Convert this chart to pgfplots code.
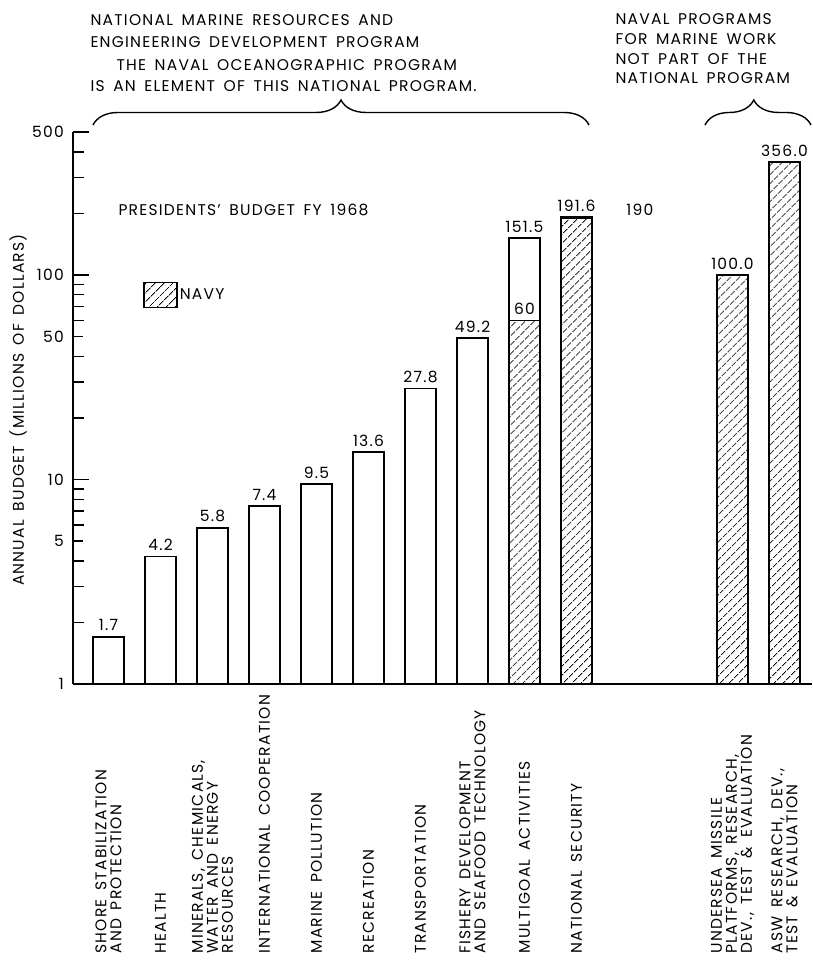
\documentclass[border=0pt]{standalone}
\usepackage{fontspec}
\setmainfont{Poppins}[LetterSpace=8, WordSpace=1.6]
\usepackage{pgfplots}
\pgfplotsset{compat=1.18}
\usetikzlibrary{patterns.meta,decorations.pathreplacing}
\tikzset{navy/.style={pattern={Lines[angle=45,distance=6.5pt,line width=0.9pt]}}}
\newcommand\lab{\fontsize{15.5}{15}\selectfont}
\begin{document}
\begin{tikzpicture}
\useasboundingbox (0,0) rectangle (812pt,960pt);
\begin{axis}[
  at={(73pt,276pt)}, anchor=south west, scale only axis,
  width=739pt, height=552pt,
  xmin=-0.683, xmax=13.53,
  ymode=log, ymin=1, ymax=500,
  axis lines*=left,
  axis line style={line width=1.6pt},
  xtick=\empty,
  ytick={1,10,100,500},
  yticklabels={1,10,100,500},
  extra y ticks={5,50},
  extra y tick labels={5,50},
  extra y tick style={major tick length=10pt},
  minor ytick={2,3,4,6,7,8,9,20,30,40,60,70,80,90,200,300,400},
  tick align=inside,
  major tick length=16pt,
  minor tick length=11pt,
  every tick/.style={line width=1.4pt, black},
  tick label style={font=\lab},
  yticklabel style={inner sep=0pt, xshift=-9pt},
  /pgf/number format/assume math mode=true,
  clip=false,
  legend style={at={(0.0947,0.705)}, anchor=west, draw=none, fill=none, inner sep=0pt, font=\lab,
    /tikz/every even column/.append style={column sep=9pt}},
  legend image code/.code={\draw[navy, line width=1.6pt] (0pt,-12.5pt) rectangle (33pt,12.5pt);},
  nodes near coords style={font=\lab, anchor=south, inner sep=0pt, yshift=5pt},
]
% total budgets (white bars)
\addplot[ybar, bar width=31pt, bar shift=0pt, fill=white, draw=black, line width=1.6pt,
  nodes near coords, point meta=explicit symbolic, forget plot]
  coordinates {(0,1.7)[1.7] (1,4.2)[4.2] (2,5.8)[5.8] (3,7.4)[7.4] (4,9.5)[9.5]
               (5,13.6)[13.6] (6,27.8)[27.8] (7,49.2)[49.2] (8,151.5)[151.5] (9,191.6)[191.6]};
% navy portion of national security
\addplot[ybar, bar width=31pt, bar shift=0pt, navy, draw=black, line width=1.6pt, forget plot]
  coordinates {(9,190)};
% navy (hatched)
\addplot[ybar, bar width=31pt, bar shift=0pt, navy, draw=black, line width=1.6pt,
  nodes near coords, point meta=explicit symbolic]
  coordinates {(8,60)[60] (12,100.0)[100.0] (13,356.0)[356.0]};
\addlegendentry{NAVY}
\node[font=\lab] at (axis cs:10.22,208) {190};
% category labels
\path (axis cs:0,1) ++(0pt,-273pt) node[rotate=90, anchor=west, align=left, font=\lab] {SHORE STABILIZATION\\AND PROTECTION};
\path (axis cs:1,1) ++(0pt,-273pt) node[rotate=90, anchor=west, align=left, font=\lab] {HEALTH};
\path (axis cs:2,1) ++(0pt,-273pt) node[rotate=90, anchor=west, align=left, font=\lab] {MINERALS, CHEMICALS,\\WATER AND ENERGY\\RESOURCES};
\path (axis cs:3,1) ++(0pt,-273pt) node[rotate=90, anchor=west, align=left, font=\lab] {INTERNATIONAL COOPERATION};
\path (axis cs:4,1) ++(0pt,-273pt) node[rotate=90, anchor=west, align=left, font=\lab] {MARINE POLLUTION};
\path (axis cs:5,1) ++(0pt,-273pt) node[rotate=90, anchor=west, align=left, font=\lab] {RECREATION};
\path (axis cs:6,1) ++(0pt,-273pt) node[rotate=90, anchor=west, align=left, font=\lab] {TRANSPORTATION};
\path (axis cs:7,1) ++(0pt,-273pt) node[rotate=90, anchor=west, align=left, font=\lab] {FISHERY DEVELOPMENT\\AND SEAFOOD TECHNOLOGY};
\path (axis cs:8,1) ++(0pt,-273pt) node[rotate=90, anchor=west, align=left, font=\lab] {MULTIGOAL ACTIVITIES};
\path (axis cs:9,1) ++(0pt,-273pt) node[rotate=90, anchor=west, align=left, font=\lab] {NATIONAL SECURITY};
\path (axis cs:12,1) ++(0pt,-273pt) node[rotate=90, anchor=west, align=left, font=\lab] {UNDERSEA MISSILE\\PLATFORMS, RESEARCH,\\DEV., TEST \& EVALUATION};
\path (axis cs:13,1) ++(0pt,-273pt) node[rotate=90, anchor=west, align=left, font=\lab] {ASW RESEARCH, DEV.,\\TEST \& EVALUATION};
\end{axis}
% annotations
\node[font=\lab, rotate=90] at (18pt,550pt) {ANNUAL BUDGET (MILLIONS OF DOLLARS)};
\node[font=\lab, anchor=west] at (115pt,750pt) {PRESIDENTS' BUDGET FY 1968};
\node[font=\lab, anchor=base west] at (87pt,934pt) {NATIONAL MARINE RESOURCES AND};
\node[font=\lab, anchor=base west] at (87pt,912pt) {ENGINEERING DEVELOPMENT PROGRAM};
\node[font=\lab, anchor=base west] at (113pt,889pt) {THE NAVAL OCEANOGRAPHIC PROGRAM};
\node[font=\lab, anchor=base west] at (87pt,868pt) {IS AN ELEMENT OF THIS NATIONAL PROGRAM.};
\node[font=\lab, anchor=base west] at (612pt,935pt) {NAVAL PROGRAMS};
\node[font=\lab, anchor=base west] at (612pt,915pt) {FOR MARINE WORK};
\node[font=\lab, anchor=base west] at (612pt,895pt) {NOT PART OF THE};
\node[font=\lab, anchor=base west] at (612pt,876pt) {NATIONAL PROGRAM};
\draw[line width=1.4pt, decorate, decoration={brace, amplitude=25pt}] (93pt,835pt) -- (589pt,835pt);
\draw[line width=1.4pt, decorate, decoration={brace, amplitude=25pt, aspect=0.46}] (705pt,835pt) -- (811pt,835pt);
\end{tikzpicture}
\end{document}
